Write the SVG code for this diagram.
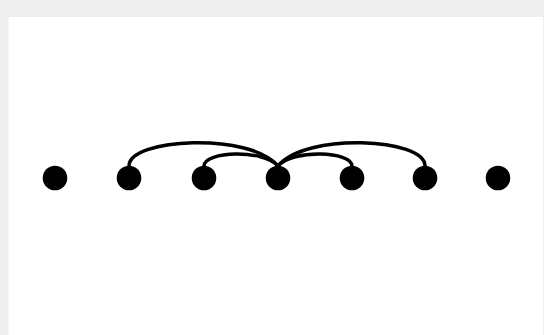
<svg xmlns="http://www.w3.org/2000/svg" width="544" height="335" viewBox="0 0 544 335">
<style>
.link{fill:none;stroke:#000;stroke-width:3.5;stroke-linecap:round}
.node{fill:#000}
</style>
<rect x="0" y="0" width="544" height="335" fill="#eeeeee"/>
<rect x="8.5" y="17" width="534.5" height="318" fill="#ffffff"/>
<g id="connectors">
<path class="link" d="M129,166 C129,138 250,132 278,166"/>
<path class="link" d="M204,166 C204,151 264,149 278,166"/>
<path class="link" d="M278,166 C292,149 352,151 352,166"/>
<path class="link" d="M278,166 C306,132 425,138 425,166"/>
</g>
<g id="n1"><circle class="node" cx="55" cy="178" r="12.3"/></g>
<g id="n2"><circle class="node" cx="129" cy="178" r="12.3"/></g>
<g id="n3"><circle class="node" cx="204" cy="178" r="12.3"/></g>
<g id="n4"><circle class="node" cx="278" cy="178" r="12.3"/></g>
<g id="n5"><circle class="node" cx="352" cy="178" r="12.3"/></g>
<g id="n6"><circle class="node" cx="425" cy="178" r="12.3"/></g>
<g id="n7"><circle class="node" cx="498" cy="178" r="12.3"/></g>
</svg>
